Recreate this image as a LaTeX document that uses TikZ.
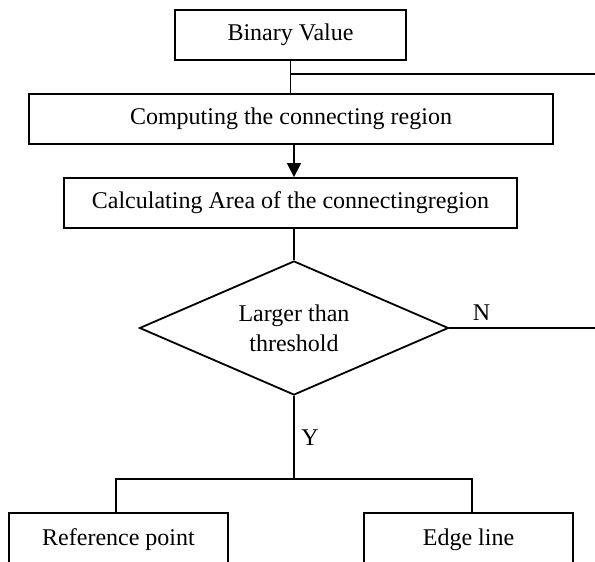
\documentclass[tikz,border=0pt]{standalone}
\usepackage{fontspec}
\setmainfont{Liberation Serif}
\usetikzlibrary{shapes.geometric,arrows.meta}

\begin{document}
\begin{tikzpicture}[x=0.5pt,y=-0.5pt,font=\fontsize{12}{15}\selectfont,
    box/.style={draw, rectangle, line width=0.9pt, inner sep=0pt},
    test/.style={draw, diamond, aspect=2.3, line width=0.9pt, inner sep=0pt, align=center},
    link/.style={line width=0.75pt}]
    \useasboundingbox (0,0) rectangle (595,562);
    \clip (0,0) rectangle (595,562);

    \node[box, minimum width=115.5pt, minimum height=25pt] (bin) at (290.5,35) {Binary Value};
    \node[box, minimum width=262pt, minimum height=25pt] (comp) at (291,119) {Computing the connecting region};
    \node[box, minimum width=226.5pt, minimum height=25pt] (calc) at (290.5,203) {Calculating Area of the connectingregion};
    \node[test, minimum width=154.5pt, minimum height=67pt] (dec) at (294,328) {Larger than\\threshold};
    \node[box, minimum width=109.5pt, minimum height=27pt] (ref) at (118.5,540) {Reference point};
    \node[box, minimum width=104.5pt, minimum height=27pt] (edge) at (468.5,540) {Edge line};

    \coordinate (split) at (291,74);
    \coordinate (outA) at (595,74);
    \coordinate (outB) at (595,328);
    \coordinate (fork) at (294,479);

    \draw[link] (bin.south) -- (bin.south |- comp.north);
    \draw[link] (split) -- (outA);
    \draw[link, -{Triangle[width=7pt,length=7pt]}] (comp.south -| dec.north) -- (calc.north -| dec.north);
    \draw[link] (calc.south -| dec.north) -- (dec.north);
    \draw[link] (dec.east) -- node[above, pos=0.22] {N} (outB);
    \draw[link] (dec.south) -- node[right, pos=0.5] {Y} (fork);
    \draw[link] (fork) -| ([xshift=-1.25pt]ref.north);
    \draw[link] (fork) -| ([xshift=1.75pt]edge.north);
\end{tikzpicture}
\end{document}
